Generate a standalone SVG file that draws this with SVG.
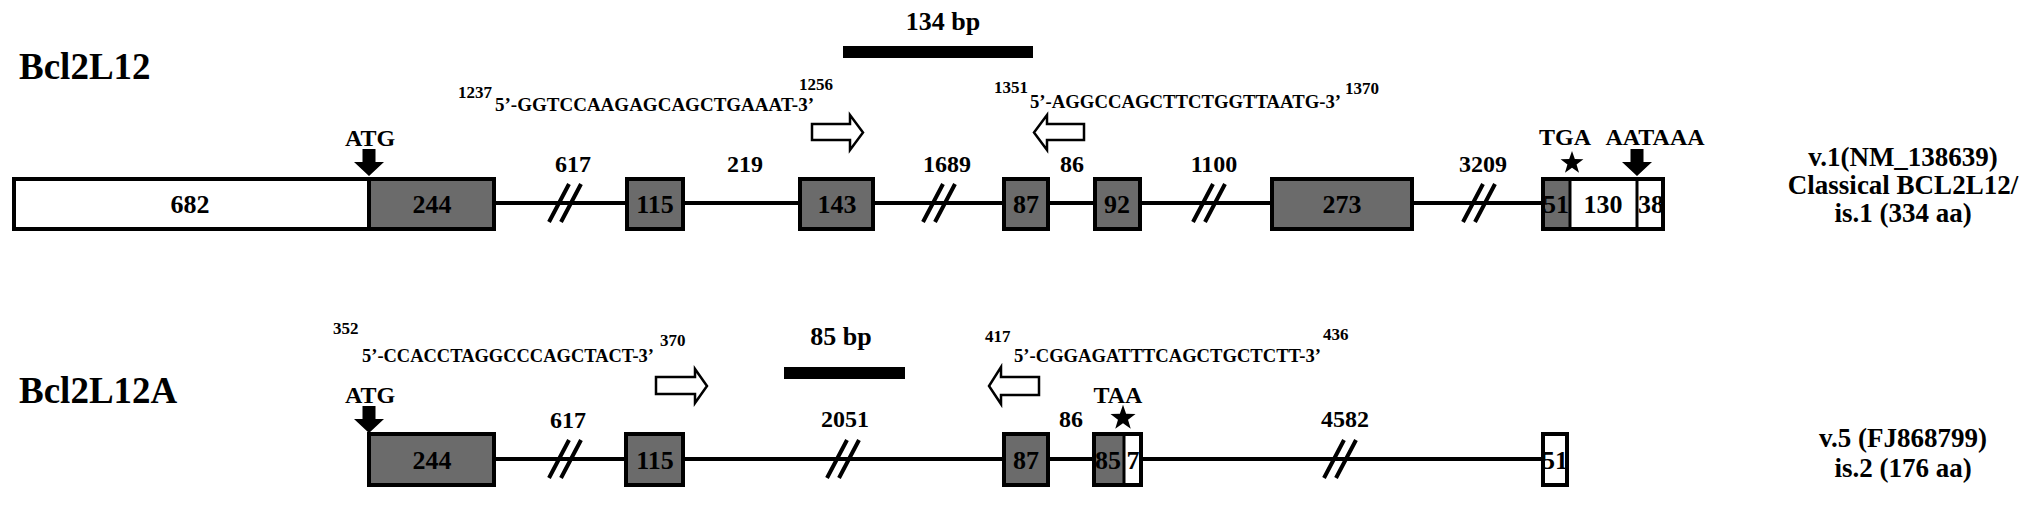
<svg xmlns="http://www.w3.org/2000/svg" width="2031" height="507" viewBox="0 0 2031 507">
<style>
text{font-family:"Liberation Serif","Times New Roman",serif;font-weight:bold;fill:#000}
.title{font-size:37px}
.num{font-size:24px;text-anchor:middle}
.lbl{font-size:26px;text-anchor:middle}
.side{font-size:27px;text-anchor:middle}
.pr{font-size:18.5px}
.sup{font-size:17px}
.ex{fill:#6b6b6b;stroke:#000;stroke-width:4}
.utr{fill:#fff;stroke:#000;stroke-width:4}
.intron{stroke:#000;stroke-width:4;fill:none}
.brk{stroke:#000;stroke-width:4;fill:none}
.oarr{fill:#fff;stroke:#000;stroke-width:2.5;stroke-linejoin:miter}
.darr{fill:#000}
</style>
<defs>
<path id="star" d="M0,-12 L2.82,-3.88 L11.41,-3.71 L4.57,1.48 L7.05,9.71 L0,4.8 L-7.05,9.71 L-4.57,1.48 L-11.41,-3.71 L-2.82,-3.88 Z" fill="#000"/>
<path id="brk" d="M-16,19 L4,-19 M-4,19 L16,-19" class="brk"/>
<path id="down" d="M-6.5,0 L6.5,0 L6.5,13 L15,13 L0,27 L-15,13 L-6.5,13 Z" class="darr"/>
</defs>

<text class="title" x="19" y="79">Bcl2L12</text>
<text class="title" x="19" y="403">Bcl2L12A</text>

<!-- connectors: introns -->
<g id="connectors">
<line class="intron" x1="494" y1="203" x2="1543" y2="203"/>
<line class="intron" x1="494" y1="459" x2="1543" y2="459"/>
<use href="#brk" x="565" y="203"/>
<use href="#brk" x="939" y="203"/>
<use href="#brk" x="1209" y="203"/>
<use href="#brk" x="1479" y="203"/>
<use href="#brk" x="565" y="459"/>
<use href="#brk" x="843" y="459"/>
<use href="#brk" x="1340" y="459"/>
</g>

<!-- intron labels -->
<g id="intron-labels">
<text class="num" x="573" y="172">617</text>
<text class="num" x="745" y="172">219</text>
<text class="num" x="947" y="172">1689</text>
<text class="num" x="1072" y="172">86</text>
<text class="num" x="1214" y="172">1100</text>
<text class="num" x="1483" y="172">3209</text>
<text class="num" x="568" y="428">617</text>
<text class="num" x="845" y="427">2051</text>
<text class="num" x="1071" y="427">86</text>
<text class="num" x="1345" y="427">4582</text>
</g>

<!-- Row 1 exons -->
<g id="r1-utr5">
<rect class="utr" x="14" y="179" width="355" height="50"/>
<text class="lbl" x="190" y="213">682</text>
</g>
<g id="r1-e244">
<rect class="ex" x="369" y="179" width="125" height="50"/>
<text class="lbl" x="432" y="213">244</text>
</g>
<g id="r1-e115">
<rect class="ex" x="627" y="179" width="56" height="50"/>
<text class="lbl" x="655" y="213">115</text>
</g>
<g id="r1-e143">
<rect class="ex" x="800" y="179" width="73" height="50"/>
<text class="lbl" x="837" y="213">143</text>
</g>
<g id="r1-e87">
<rect class="ex" x="1004" y="179" width="44" height="50"/>
<text class="lbl" x="1026" y="213">87</text>
</g>
<g id="r1-e92">
<rect class="ex" x="1095" y="179" width="45" height="50"/>
<text class="lbl" x="1117" y="213">92</text>
</g>
<g id="r1-e273">
<rect class="ex" x="1272" y="179" width="140" height="50"/>
<text class="lbl" x="1342" y="213">273</text>
</g>
<g id="r1-last">
<rect x="1543" y="179" width="120" height="50" fill="#fff"/>
<rect x="1543" y="179" width="27" height="50" fill="#6b6b6b"/>
<rect x="1543" y="179" width="120" height="50" fill="none" stroke="#000" stroke-width="4"/>
<line x1="1570" y1="179" x2="1570" y2="229" stroke="#000" stroke-width="3"/>
<line x1="1637" y1="179" x2="1637" y2="229" stroke="#000" stroke-width="3"/>
<text class="lbl" x="1556" y="213">51</text>
<text class="lbl" x="1603" y="213">130</text>
<text class="lbl" x="1651" y="213">38</text>
</g>

<!-- Row 1 markers -->
<g id="r1-atg">
<text class="num" x="370" y="146">ATG</text>
<use href="#down" x="369" y="149"/>
</g>
<g id="r1-tga">
<text class="num" x="1565" y="145">TGA</text>
<use href="#star" x="1572" y="163"/>
</g>
<g id="r1-aataaa">
<text class="num" x="1655" y="145">AATAAA</text>
<use href="#down" x="1637" y="149"/>
</g>

<!-- Row 1 amplicon and primers -->
<g id="r1-amplicon">
<text class="lbl" x="943" y="30">134 bp</text>
<rect x="843" y="46" width="190" height="12" fill="#000"/>
</g>
<g id="r1-primer-f">
<text class="sup" x="458" y="98">1237</text>
<text class="pr" x="495" y="111" textLength="319" lengthAdjust="spacingAndGlyphs">5’-GGTCCAAGAGCAGCTGAAAT-3’</text>
<text class="sup" x="799" y="90">1256</text>
<polygon class="oarr" points="812,124 850,124 850,115 863,132.5 850,150 850,140 812,140"/>
</g>
<g id="r1-primer-r">
<text class="sup" x="994" y="93">1351</text>
<text class="pr" x="1030" y="108" textLength="311" lengthAdjust="spacingAndGlyphs">5’-AGGCCAGCTTCTGGTTAATG-3’</text>
<text class="sup" x="1345" y="94">1370</text>
<polygon class="oarr" points="1084,124 1047,124 1047,115 1034,132.5 1047,150 1047,140 1084,140"/>
</g>

<g id="r1-desc">
<text class="side" x="1903" y="166">v.1(NM_138639)</text>
<text class="side" x="1903" y="194">Classical BCL2L12/</text>
<text class="side" x="1903" y="222">is.1 (334 aa)</text>
</g>

<!-- Row 2 exons -->
<g id="r2-e244">
<rect class="ex" x="369" y="434" width="125" height="51"/>
<text class="lbl" x="432" y="469">244</text>
</g>
<g id="r2-e115">
<rect class="ex" x="626" y="434" width="57" height="51"/>
<text class="lbl" x="655" y="469">115</text>
</g>
<g id="r2-e87">
<rect class="ex" x="1004" y="434" width="44" height="51"/>
<text class="lbl" x="1026" y="469">87</text>
</g>
<g id="r2-e85-7">
<rect x="1094" y="434" width="47" height="51" fill="#fff"/>
<rect x="1094" y="434" width="30" height="51" fill="#6b6b6b"/>
<rect x="1094" y="434" width="47" height="51" fill="none" stroke="#000" stroke-width="4"/>
<line x1="1124" y1="434" x2="1124" y2="485" stroke="#000" stroke-width="3"/>
<text class="lbl" x="1108" y="469">85</text>
<text class="lbl" x="1133" y="469">7</text>
</g>
<g id="r2-e51">
<rect class="utr" x="1543" y="434" width="24" height="51"/>
<text class="lbl" x="1555" y="469">51</text>
</g>

<!-- Row 2 markers -->
<g id="r2-atg">
<text class="num" x="370" y="403">ATG</text>
<use href="#down" x="369" y="406"/>
</g>
<g id="r2-taa">
<text class="num" x="1118" y="403">TAA</text>
<use href="#star" x="1123" y="418" transform="translate(1123 418) scale(1.1) translate(-1123 -418)"/>
</g>

<!-- Row 2 amplicon and primers -->
<g id="r2-amplicon">
<text class="lbl" x="841" y="345">85 bp</text>
<rect x="784" y="367" width="121" height="12" fill="#000"/>
</g>
<g id="r2-primer-f">
<text class="sup" x="333" y="334">352</text>
<text class="pr" x="362" y="362" textLength="292" lengthAdjust="spacingAndGlyphs">5’-CCACCTAGGCCCAGCTACT-3’</text>
<text class="sup" x="660" y="346">370</text>
<polygon class="oarr" points="656,377 695,377 695,369 707,386 695,403 695,394 656,394"/>
</g>
<g id="r2-primer-r">
<text class="sup" x="985" y="342">417</text>
<text class="pr" x="1014" y="362" textLength="307" lengthAdjust="spacingAndGlyphs">5’-CGGAGATTTCAGCTGCTCTT-3’</text>
<text class="sup" x="1323" y="340">436</text>
<polygon class="oarr" points="1039,377 1001,377 1001,367 989,386 1001,404 1001,395 1039,395"/>
</g>

<g id="r2-desc">
<text class="side" x="1903" y="447">v.5 (FJ868799)</text>
<text class="side" x="1903" y="477">is.2 (176 aa)</text>
</g>
</svg>
